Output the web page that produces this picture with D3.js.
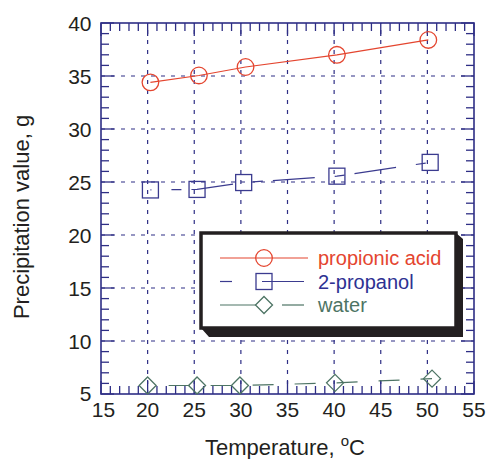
<!DOCTYPE html>
<html>
<head>
<meta charset="utf-8">
<script src="https://cdn.jsdelivr.net/npm/d3@7"></script>
<style>
  body { margin: 0; background: #fff; }
  svg { font-family: Arial, "Liberation Sans", sans-serif; }
</style>
</head>
<body>
<div id="chart"></div>
<script>
const width = 488, height = 459;
const margin = {left: 101, right: 15, top: 23, bottom: 65};

const tempsAcid = [20.3, 25.5, 30.5, 40.3, 50.1];
const propionicAcid = [34.4, 35.05, 35.85, 37.0, 38.4];
const tempsPropanol = [20.3, 25.3, 30.3, 40.3, 50.3];
const propanol = [24.25, 24.3, 24.95, 25.55, 26.85];
const tempsWater = [20.0, 25.3, 29.9, 40.1, 50.5];
const water = [5.8, 5.8, 5.8, 6.05, 6.45];
const xTicks = [15, 20, 25, 30, 35, 40, 45, 50, 55];
const yTicks = [5, 10, 15, 20, 25, 30, 35, 40];

const axisColor = "#2e2e85";

const series = [
  {name: "propionic acid", temps: tempsAcid, values: propionicAcid, color: "#e4452f", marker: "circle", dash: null, offset: 0},
  {name: "2-propanol", temps: tempsPropanol, values: propanol, color: "#3b3b8f", marker: "square", dash: "42,20,10,10", offset: 41},
  {name: "water", temps: tempsWater, values: water, color: "#4d7464", marker: "diamond", dash: "21,21", offset: 21}
];

var svg = d3.select("#chart").append("svg")
  .attr("width", width).attr("height", height);

var x = d3.scaleLinear().domain([15, 55]).range([margin.left, width - margin.right + 1]);
var y = d3.scaleLinear().domain([5, 40]).range([height - margin.bottom, margin.top]);

// dashed grid at major ticks
var grid = svg.append("g");
grid.selectAll("line.vx")
  .data(xTicks.filter(d => d > 15 && d < 55))
  .enter().append("line")
  .attr("x1", d => x(d)).attr("x2", d => x(d))
  .attr("y1", y(5)).attr("y2", y(40))
  .attr("stroke", axisColor).attr("stroke-width", 1.2)
  .attr("stroke-dasharray", "4,6");
grid.selectAll("line.hy")
  .data(yTicks.filter(d => d > 5 && d < 40))
  .enter().append("line")
  .attr("y1", d => y(d)).attr("y2", d => y(d))
  .attr("x1", x(15)).attr("x2", x(55))
  .attr("stroke", axisColor).attr("stroke-width", 1.2)
  .attr("stroke-dasharray", "4,6");

// inward ticks on all four sides
const minorX = d3.range(15, 56, 1);
const minorY = d3.range(5, 41, 1);
var ticks = svg.append("g").attr("stroke", axisColor).attr("stroke-width", 1.3);
minorX.forEach(v => {
  let len = (v % 5 === 0) ? 13 : 8;
  ticks.append("line").attr("x1", x(v)).attr("x2", x(v)).attr("y1", y(5)).attr("y2", y(5) - len);
  ticks.append("line").attr("x1", x(v)).attr("x2", x(v)).attr("y1", y(40)).attr("y2", y(40) + len);
});
minorY.forEach(v => {
  let len = (v % 5 === 0) ? 13 : 8;
  ticks.append("line").attr("y1", y(v)).attr("y2", y(v)).attr("x1", x(15)).attr("x2", x(15) + len);
  ticks.append("line").attr("y1", y(v)).attr("y2", y(v)).attr("x1", x(55)).attr("x2", x(55) - len);
});

// frame
svg.append("rect")
  .attr("x", x(15)).attr("y", y(40))
  .attr("width", x(55) - x(15)).attr("height", y(5) - y(40))
  .attr("fill", "none").attr("stroke", axisColor).attr("stroke-width", 1.6);

// tick labels
svg.append("g").selectAll("text")
  .data(xTicks).enter().append("text")
  .attr("x", d => x(d) + (d === 15 ? 2.5 : 0)).attr("y", y(5) + 23)
  .attr("text-anchor", "middle")
  .attr("font-size", 21).attr("fill", "#231f20")
  .text(d => d);
svg.append("g").selectAll("text")
  .data(yTicks).enter().append("text")
  .attr("x", x(15) - 9.5).attr("y", d => y(d) + 7.5 - (d === 5 ? 1 : 0))
  .attr("text-anchor", "end")
  .attr("font-size", 21).attr("fill", "#231f20")
  .text(d => d);

// axis titles
var xt = svg.append("text")
  .attr("x", 285).attr("y", 455)
  .attr("text-anchor", "middle")
  .attr("font-size", 22).attr("fill", "#231f20");
xt.append("tspan").text("Temperature, ");
xt.append("tspan").attr("font-size", 15).attr("dy", -9).text("o");
xt.append("tspan").attr("dy", 9).text("C");

svg.append("text")
  .attr("transform", "translate(29," + 217 + ") rotate(-90)")
  .attr("text-anchor", "middle")
  .attr("font-size", 22).attr("fill", "#231f20")
  .text("Precipitation value, g");

function drawMarker(g, type, cx, cy, color) {
  if (type === "circle") {
    g.append("circle").attr("cx", cx).attr("cy", cy).attr("r", 8.3)
      .attr("fill", "none").attr("stroke", color).attr("stroke-width", 1.3);
  } else if (type === "square") {
    g.append("rect").attr("x", cx - 8).attr("y", cy - 8).attr("width", 16).attr("height", 16)
      .attr("fill", "none").attr("stroke", color).attr("stroke-width", 1.3);
  } else {
    g.append("path").attr("d", `M${cx},${cy - 8.5}L${cx + 8.5},${cy}L${cx},${cy + 8.5}L${cx - 8.5},${cy}Z`)
      .attr("fill", "none").attr("stroke", color).attr("stroke-width", 1.3);
  }
}

var line = d3.line().x(d => x(d[0])).y(d => y(d[1]));

var plot = svg.append("g");
series.forEach(s => {
  let pts = s.temps.map((t, i) => [t, s.values[i]]);
  plot.append("path")
    .attr("d", line(pts))
    .attr("fill", "none")
    .attr("stroke", s.color).attr("stroke-width", 1.2)
    .attr("stroke-dasharray", s.dash)
    .attr("stroke-dashoffset", s.offset);
  pts.forEach(p => drawMarker(plot, s.marker, x(p[0]), y(p[1]), s.color));
});

// legend with drop shadow
const lg = {x: 201, y: 233, w: 255, h: 95};
svg.append("path")
  .attr("d", `M${lg.x + 8},${lg.y + lg.h + 9}L${lg.x},${lg.y + lg.h}L${lg.x + lg.w},${lg.y + lg.h}L${lg.x + lg.w},${lg.y}L${lg.x + lg.w + 7},${lg.y + 6}L${lg.x + lg.w + 7},${lg.y + lg.h + 9}Z`)
  .attr("fill", "#231f20");
svg.append("rect")
  .attr("x", lg.x).attr("y", lg.y).attr("width", lg.w).attr("height", lg.h)
  .attr("fill", "#fff").attr("stroke", "#231f20").attr("stroke-width", 3.5);

var legend = svg.append("g");
series.forEach((s, i) => {
  let cy = 258 + i * 23.5;
  if (s.marker === "circle") {
    legend.append("line").attr("x1", 220).attr("x2", 308).attr("y1", cy).attr("y2", cy)
      .attr("stroke", s.color).attr("stroke-width", 1.2);
  } else if (s.marker === "square") {
    legend.append("line").attr("x1", 220).attr("x2", 232).attr("y1", cy).attr("y2", cy)
      .attr("stroke", s.color).attr("stroke-width", 1.2);
    legend.append("line").attr("x1", 262).attr("x2", 304).attr("y1", cy).attr("y2", cy)
      .attr("stroke", s.color).attr("stroke-width", 1.2);
  } else {
    legend.append("line").attr("x1", 220).attr("x2", 256).attr("y1", cy).attr("y2", cy)
      .attr("stroke", s.color).attr("stroke-width", 1.2);
    legend.append("line").attr("x1", 282).attr("x2", 304).attr("y1", cy).attr("y2", cy)
      .attr("stroke", s.color).attr("stroke-width", 1.2);
  }
  drawMarker(legend, s.marker, 264, cy, s.color);
  legend.append("text")
    .attr("x", 318).attr("y", cy + 7)
    .attr("font-size", 20).attr("fill", s.color === "#3b3b8f" ? "#2e3192" : s.color)
    .text(s.name);
});
</script>
</body>
</html>
